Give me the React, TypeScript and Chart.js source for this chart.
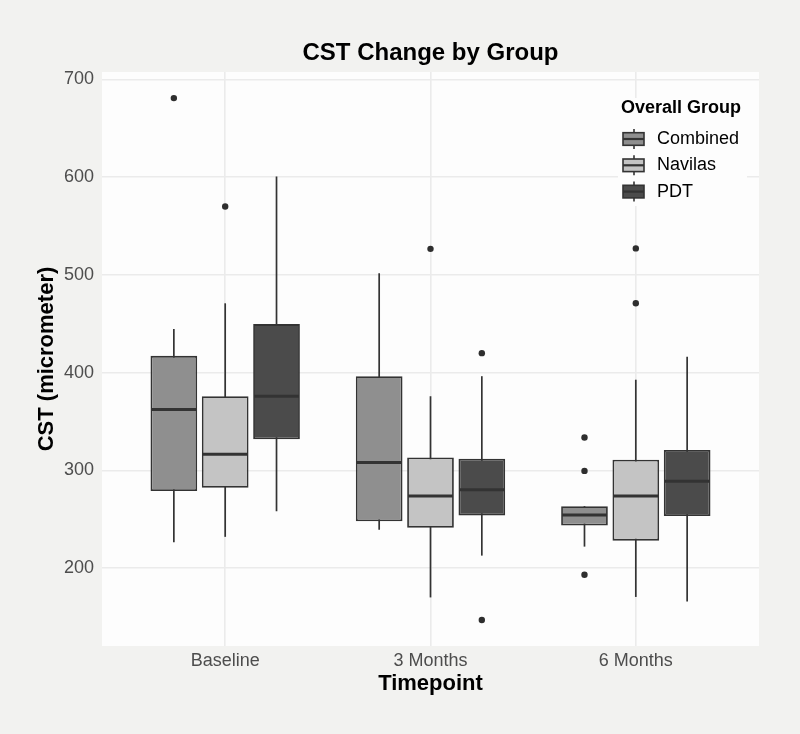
import React, { useEffect, useRef } from 'react';
import { Chart, registerables } from 'chart.js';

Chart.register(...registerables);

const FONT = '"Liberation Sans", Arial, Helvetica, sans-serif';

// Categories
const timepoints = ['Baseline', '3 Months', '6 Months'];
const groups = ['Combined', 'Navilas', 'PDT'];
const groupColors = ['#8f8f8f', '#c4c4c4', '#4b4b4b'];

// Combined
const combinedLow = [226.5, 239.2, 222];
const combinedQ1 = [278.8, 248, 243.6];
const combinedMedian = [362.2, 308.2, 254.4];
const combinedQ3 = [417.2, 396.4, 263.4];
const combinedHigh = [444.6, 501.7, 263.4];
const combinedOutliers = [[681], [], [333.7, 299.5, 193.2]];

// Navilas
const navilasLow = [232, 170, 170.5];
const navilasQ1 = [282.2, 241.2, 228.1];
const navilasMedian = [316.4, 273.7, 273.9];
const navilasQ3 = [375.9, 313.3, 311];
const navilasHigh = [471, 375.9, 392.8];
const navilasOutliers = [[570], [526.7], [527.2, 471]];

// PDT
const pdtLow = [258.3, 212.8, 165.8];
const pdtQ1 = [331.8, 253.8, 253.3];
const pdtMedian = [375.9, 280.2, 289];
const pdtQ3 = [449.7, 312, 321];
const pdtHigh = [600.8, 396.4, 416.2];
const pdtOutliers = [[], [420, 146.9], []];

// Axis
const yTicks = [200, 300, 400, 500, 600, 700];
const yMin = 120.3;
const yMax = 707.7;

export default function App() {
  const ref = useRef<HTMLCanvasElement>(null);

  useEffect(() => {
    const canvas = ref.current;
    if (!canvas) return;

    const series = [
      { low: combinedLow, q1: combinedQ1, med: combinedMedian, q3: combinedQ3, high: combinedHigh, out: combinedOutliers },
      { low: navilasLow, q1: navilasQ1, med: navilasMedian, q3: navilasQ3, high: navilasHigh, out: navilasOutliers },
      { low: pdtLow, q1: pdtQ1, med: pdtMedian, q3: pdtQ3, high: pdtHigh, out: pdtOutliers },
    ];

    const boxPlugin = {
      id: 'boxExtras',
      beforeDraw(chart: any) {
        const { ctx, chartArea: a } = chart;
        ctx.save();
        ctx.fillStyle = '#f2f2f0';
        ctx.fillRect(0, 0, chart.width, chart.height);
        ctx.fillStyle = '#fdfdfd';
        ctx.fillRect(a.left, a.top, a.right - a.left, a.bottom - a.top);
        ctx.restore();
      },
      beforeDatasetsDraw(chart: any) {
        const { ctx } = chart;
        const y = chart.scales.y;
        ctx.save();
        ctx.strokeStyle = '#333333';
        ctx.lineWidth = 1.7;
        series.forEach((s, i) => {
          const meta = chart.getDatasetMeta(i);
          meta.data.forEach((bar: any, j: number) => {
            ctx.beginPath();
            ctx.moveTo(bar.x, y.getPixelForValue(s.low[j]));
            ctx.lineTo(bar.x, y.getPixelForValue(s.high[j]));
            ctx.stroke();
          });
        });
        ctx.restore();
      },
      afterDatasetsDraw(chart: any) {
        const { ctx } = chart;
        const y = chart.scales.y;
        ctx.save();
        series.forEach((s, i) => {
          const meta = chart.getDatasetMeta(i);
          meta.data.forEach((bar: any, j: number) => {
            const half = bar.width / 2 - 0.9;
            const my = y.getPixelForValue(s.med[j]);
            ctx.strokeStyle = '#333333';
            ctx.lineWidth = 3;
            ctx.beginPath();
            ctx.moveTo(bar.x - half, my);
            ctx.lineTo(bar.x + half, my);
            ctx.stroke();
            ctx.fillStyle = '#2e2e2e';
            s.out[j].forEach((v: number) => {
              ctx.beginPath();
              ctx.arc(bar.x, y.getPixelForValue(v), 3.2, 0, Math.PI * 2);
              ctx.fill();
            });
          });
        });
        ctx.restore();
      },
      afterDraw(chart: any) {
        const { ctx, chartArea: a } = chart;
        const lx = a.right - 141;
        const ly = a.top + 26;
        ctx.save();
        ctx.fillStyle = '#fdfdfd';
        ctx.fillRect(lx, ly, 129, 108);
        ctx.fillStyle = '#000000';
        ctx.textBaseline = 'middle';
        ctx.textAlign = 'left';
        ctx.font = `bold 18px ${FONT}`;
        ctx.fillText('Overall Group', lx + 3, ly + 10);
        groups.forEach((g, k) => {
          const cy = ly + 41 + k * 26.3;
          const kx = lx + 5;
          ctx.strokeStyle = '#333333';
          ctx.lineWidth = 1.6;
          ctx.beginPath();
          ctx.moveTo(kx + 11, cy - 10);
          ctx.lineTo(kx + 11, cy + 10);
          ctx.stroke();
          ctx.fillStyle = groupColors[k];
          ctx.fillRect(kx, cy - 6.3, 21, 12.6);
          ctx.strokeRect(kx, cy - 6.3, 21, 12.6);
          ctx.lineWidth = 2.2;
          ctx.beginPath();
          ctx.moveTo(kx, cy);
          ctx.lineTo(kx + 21, cy);
          ctx.stroke();
          ctx.fillStyle = '#000000';
          ctx.font = `18px ${FONT}`;
          ctx.fillText(g, lx + 39, cy);
        });
        ctx.restore();
      },
    };

    const chart = new Chart(canvas, {
      type: 'bar',
      data: {
        datasets: series.map((s, i) => ({
          label: groups[i],
          data: timepoints.map((_, j) => ({ x: j + 1, y: [s.q1[j], s.q3[j]] })),
          backgroundColor: groupColors[i],
          borderColor: '#333333',
          borderWidth: 1.8,
          borderSkipped: false,
          categoryPercentage: 0.75,
          barPercentage: 0.91,
        })) as any,
      },
      options: {
        animation: false,
        responsive: false,
        devicePixelRatio: 1,
        layout: { padding: { left: 0, right: 41, top: 0, bottom: 0 } },
        plugins: {
          legend: { display: false },
          tooltip: { enabled: false },
          title: {
            display: true,
            text: 'CST Change by Group',
            color: '#000000',
            font: { family: FONT, size: 24, weight: 'bold' },
            padding: { top: 38.6, bottom: 4.6 },
            fullSize: false,
          },
        },
        scales: {
          x: {
            type: 'linear',
            min: 0.4,
            max: 3.6,
            offset: false,
            afterBuildTicks: (s: any) => {
              s.ticks = timepoints.map((_, j) => ({ value: j + 1 }));
            },
            afterFit: (s: any) => {
              s.height = 88;
              s.paddingLeft = 0;
              s.paddingRight = 0;
            },
            ticks: {
              padding: 4.5,
              color: '#4d4d4d',
              font: { family: FONT, size: 18 },
              maxRotation: 0,
              autoSkip: false,
              callback: (v: any) => timepoints[Math.round(v) - 1] ?? '',
            },
            grid: { color: '#ebebeb', lineWidth: 1.6, drawTicks: false, offset: false },
            border: { display: false },
            title: {
              display: true,
              text: 'Timepoint',
              color: '#000000',
              font: { family: FONT, size: 22, weight: 'bold' },
              padding: { top: 0, bottom: 36.5 },
            },
          },
          y: {
            min: yMin,
            max: yMax,
            afterBuildTicks: (s: any) => {
              s.ticks = yTicks.map((v) => ({ value: v }));
            },
            afterFit: (s: any) => {
              s.width = 102;
              s.paddingTop = 0;
              s.paddingBottom = 0;
            },
            ticks: {
              padding: 8,
              color: '#4d4d4d',
              font: { family: FONT, size: 18 },
            },
            grid: { color: '#ebebeb', lineWidth: 1.6, drawTicks: false },
            border: { display: false },
            title: {
              display: true,
              text: 'CST (micrometer)',
              color: '#000000',
              font: { family: FONT, size: 22, weight: 'bold' },
              padding: { top: 33.8, bottom: 0 },
            },
          },
        },
      } as any,
      plugins: [boxPlugin],
    });

    return () => chart.destroy();
  }, []);

  return (
    <div style={{ position: 'absolute', left: 0, top: 0, width: 800, height: 734, background: '#f2f2f0' }}>
      <canvas ref={ref} width={800} height={734} style={{ display: 'block', width: 800, height: 734 }} />
    </div>
  );
}
